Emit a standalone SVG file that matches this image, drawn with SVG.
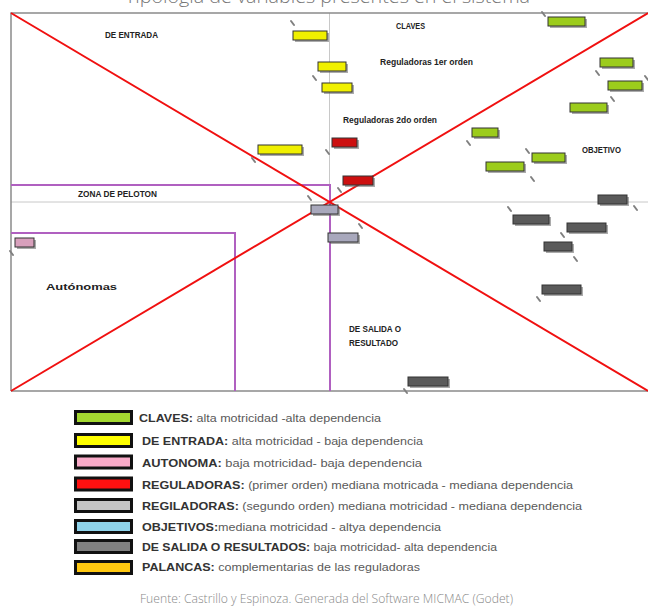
<svg xmlns="http://www.w3.org/2000/svg" width="648" height="606" viewBox="0 0 648 606">
<style>
.lbl{font-family:"Liberation Sans",Arial,sans-serif;font-weight:bold;font-size:9px;fill:#222}
.sh{fill:#666;opacity:.55}
.b{stroke:#333;stroke-width:1}
.g{fill:#9ccc1c}.y{fill:#f0f000}.r{fill:#cc1010}.lg{fill:#a8a8bc}.p{fill:#d8a0bc}.dg{fill:#5a5a5a}
.mk{stroke:#808080;stroke-width:2;stroke-linecap:round}
.sw{stroke:#111;stroke-width:3}
.lt{font-family:"Liberation Sans",Arial,sans-serif;font-size:11px;fill:#5a5a5a}
.lt tspan.k{font-weight:bold;fill:#333}
</style>
<rect width="648" height="606" fill="#fff"/>
<text x="125" y="3" font-family="'Open Sans',sans-serif" font-weight="300" font-size="18" fill="#777" textLength="405" lengthAdjust="spacingAndGlyphs">Tipología de variables presentes en el sistema</text>
<g id="chart">
<line x1="11" y1="202" x2="648" y2="202" stroke="#c8c8c8" stroke-width="1"/>
<line x1="329.5" y1="13" x2="329.5" y2="391" stroke="#c8c8c8" stroke-width="1"/>
<path d="M11 391V13H648M11 391H648" fill="none" stroke="#8a8a8a" stroke-width="1.5"/>
<path d="M11 185H330V391M11 233H235V391" fill="none" stroke="#b060c0" stroke-width="2"/>
<line x1="11" y1="13" x2="648" y2="391" stroke="#f01010" stroke-width="2"/>
<line x1="11" y1="391" x2="648" y2="13" stroke="#f01010" stroke-width="2"/>
<text class="lbl" x="105" y="38" textLength="53" lengthAdjust="spacingAndGlyphs">DE ENTRADA</text>
<text class="lbl" x="396" y="29" textLength="29" lengthAdjust="spacingAndGlyphs">CLAVES</text>
<text class="lbl" x="380" y="65" textLength="93" lengthAdjust="spacingAndGlyphs">Reguladoras 1er orden</text>
<text class="lbl" x="343" y="123" textLength="94" lengthAdjust="spacingAndGlyphs">Reguladoras 2do orden</text>
<text class="lbl" x="582" y="153" textLength="39" lengthAdjust="spacingAndGlyphs">OBJETIVO</text>
<text class="lbl" x="78" y="197" textLength="79" lengthAdjust="spacingAndGlyphs">ZONA DE PELOTON</text>
<text class="lbl" x="46" y="290" font-size="14" textLength="71" lengthAdjust="spacingAndGlyphs">Autónomas</text>
<text class="lbl" x="349" y="332" textLength="52" lengthAdjust="spacingAndGlyphs">DE SALIDA O</text>
<text class="lbl" x="349" y="346" textLength="49" lengthAdjust="spacingAndGlyphs">RESULTADO</text>
</g>
<g id="connectors">
<line class="mk" x1="291" y1="21" x2="294" y2="25"/>
<line class="mk" x1="313" y1="76" x2="316" y2="80"/>
<line class="mk" x1="252" y1="158" x2="255" y2="162"/>
<line class="mk" x1="326" y1="150" x2="329" y2="154"/>
<line class="mk" x1="338" y1="188" x2="341" y2="192"/>
<line class="mk" x1="542" y1="12" x2="545" y2="16"/>
<line class="mk" x1="596" y1="71" x2="599" y2="75"/>
<line class="mk" x1="645" y1="76" x2="648" y2="80"/>
<line class="mk" x1="611" y1="97" x2="614" y2="101"/>
<line class="mk" x1="467" y1="141" x2="470" y2="145"/>
<line class="mk" x1="526" y1="149" x2="529" y2="153"/>
<line class="mk" x1="531" y1="177" x2="534" y2="181"/>
<line class="mk" x1="634" y1="206" x2="637" y2="210"/>
<line class="mk" x1="508" y1="207" x2="511" y2="211"/>
<line class="mk" x1="561" y1="233" x2="564" y2="237"/>
<line class="mk" x1="574" y1="257" x2="577" y2="261"/>
<line class="mk" x1="537" y1="297" x2="540" y2="301"/>
<line class="mk" x1="404" y1="389" x2="407" y2="393"/>
<line class="mk" x1="308" y1="196" x2="311" y2="200"/>
<line class="mk" x1="359" y1="224" x2="362" y2="228"/>
<line class="mk" x1="10" y1="251" x2="13" y2="255"/>
</g>
<g id="n-y1"><rect class="sh" x="295" y="33" width="34" height="9"/><rect class="b y" x="293" y="31" width="34" height="9"/></g>
<g id="n-y2"><rect class="sh" x="320" y="64" width="28" height="9"/><rect class="b y" x="318" y="62" width="28" height="9"/></g>
<g id="n-y3"><rect class="sh" x="324" y="85" width="30" height="9"/><rect class="b y" x="322" y="83" width="30" height="9"/></g>
<g id="n-y4"><rect class="sh" x="260" y="147" width="44" height="9"/><rect class="b y" x="258" y="145" width="44" height="9"/></g>
<g id="n-r1"><rect class="sh" x="334" y="140" width="25" height="9"/><rect class="b r" x="332" y="138" width="25" height="9"/></g>
<g id="n-r2"><rect class="sh" x="345" y="178" width="30" height="9"/><rect class="b r" x="343" y="176" width="30" height="9"/></g>
<g id="n-lg1"><rect class="sh" x="313" y="207" width="27" height="9"/><rect class="b lg" x="311" y="205" width="27" height="9"/></g>
<g id="n-lg2"><rect class="sh" x="330" y="235" width="30" height="9"/><rect class="b lg" x="328" y="233" width="30" height="9"/></g>
<g id="n-p1"><rect class="sh" x="17" y="240" width="19" height="9"/><rect class="b p" x="15" y="238" width="19" height="9"/></g>
<g id="n-g1"><rect class="sh" x="550" y="19" width="37" height="9"/><rect class="b g" x="548" y="17" width="37" height="9"/></g>
<g id="n-g2"><rect class="sh" x="602" y="60" width="33" height="9"/><rect class="b g" x="600" y="58" width="33" height="9"/></g>
<g id="n-g3"><rect class="sh" x="610" y="83" width="34" height="9"/><rect class="b g" x="608" y="81" width="34" height="9"/></g>
<g id="n-g4"><rect class="sh" x="572" y="105" width="37" height="9"/><rect class="b g" x="570" y="103" width="37" height="9"/></g>
<g id="n-g5"><rect class="sh" x="474" y="130" width="26" height="9"/><rect class="b g" x="472" y="128" width="26" height="9"/></g>
<g id="n-g6"><rect class="sh" x="534" y="155" width="33" height="9"/><rect class="b g" x="532" y="153" width="33" height="9"/></g>
<g id="n-g7"><rect class="sh" x="488" y="164" width="38" height="9"/><rect class="b g" x="486" y="162" width="38" height="9"/></g>
<g id="n-d1"><rect class="sh" x="600" y="197" width="29" height="9"/><rect class="b dg" x="598" y="195" width="29" height="9"/></g>
<g id="n-d2"><rect class="sh" x="515" y="217" width="36" height="9"/><rect class="b dg" x="513" y="215" width="36" height="9"/></g>
<g id="n-d3"><rect class="sh" x="569" y="225" width="39" height="9"/><rect class="b dg" x="567" y="223" width="39" height="9"/></g>
<g id="n-d4"><rect class="sh" x="546" y="244" width="28" height="9"/><rect class="b dg" x="544" y="242" width="28" height="9"/></g>
<g id="n-d5"><rect class="sh" x="544" y="287" width="39" height="9"/><rect class="b dg" x="542" y="285" width="39" height="9"/></g>
<g id="n-d6"><rect class="sh" x="410" y="379" width="40" height="9"/><rect class="b dg" x="408" y="377" width="40" height="9"/></g>
<g id="legend">
<rect class="sw" x="75.5" y="411.5" width="56" height="12" fill="#a3d830"/>
<rect class="sw" x="75.5" y="434.5" width="56" height="12" fill="#ffff00"/>
<rect class="sw" x="75.5" y="456" width="56" height="12" fill="#f9aac8"/>
<rect class="sw" x="75.5" y="478" width="56" height="12" fill="#ff1010"/>
<rect class="sw" x="75.5" y="499.5" width="56" height="12" fill="#c4c4c4"/>
<rect class="sw" x="75.5" y="520.5" width="56" height="12" fill="#8fd3ea"/>
<rect class="sw" x="75.5" y="540.5" width="56" height="12" fill="#808080"/>
<rect class="sw" x="75.5" y="561.5" width="56" height="12" fill="#ffc810"/>
<text class="lt" x="139" y="422" textLength="242" lengthAdjust="spacingAndGlyphs"><tspan class="k">CLAVES:</tspan> alta motricidad -alta dependencia</text>
<text class="lt" x="142" y="445" textLength="281" lengthAdjust="spacingAndGlyphs"><tspan class="k">DE ENTRADA:</tspan> alta motricidad - baja dependencia</text>
<text class="lt" x="142" y="467" textLength="280" lengthAdjust="spacingAndGlyphs"><tspan class="k">AUTONOMA:</tspan> baja motricidad- baja dependencia</text>
<text class="lt" x="142" y="489" textLength="431" lengthAdjust="spacingAndGlyphs"><tspan class="k">REGULADORAS:</tspan> (primer orden) mediana motricada - mediana dependencia</text>
<text class="lt" x="142" y="510" textLength="440" lengthAdjust="spacingAndGlyphs"><tspan class="k">REGILADORAS:</tspan> (segundo orden) mediana motricidad - mediana dependencia</text>
<text class="lt" x="142" y="531" textLength="299" lengthAdjust="spacingAndGlyphs"><tspan class="k">OBJETIVOS:</tspan>mediana motricidad  - altya dependencia</text>
<text class="lt" x="142" y="551" textLength="355" lengthAdjust="spacingAndGlyphs"><tspan class="k">DE SALIDA O RESULTADOS:</tspan> baja motricidad- alta dependencia</text>
<text class="lt" x="142" y="571" textLength="278" lengthAdjust="spacingAndGlyphs"><tspan class="k">PALANCAS:</tspan> complementarias de las reguladoras</text>
</g>
<text x="140" y="603" font-family="'Open Sans',sans-serif" font-weight="300" font-size="12" fill="#888" textLength="373" lengthAdjust="spacingAndGlyphs">Fuente: Castrillo y Espinoza. Generada del Software MICMAC (Godet)</text>
</svg>
